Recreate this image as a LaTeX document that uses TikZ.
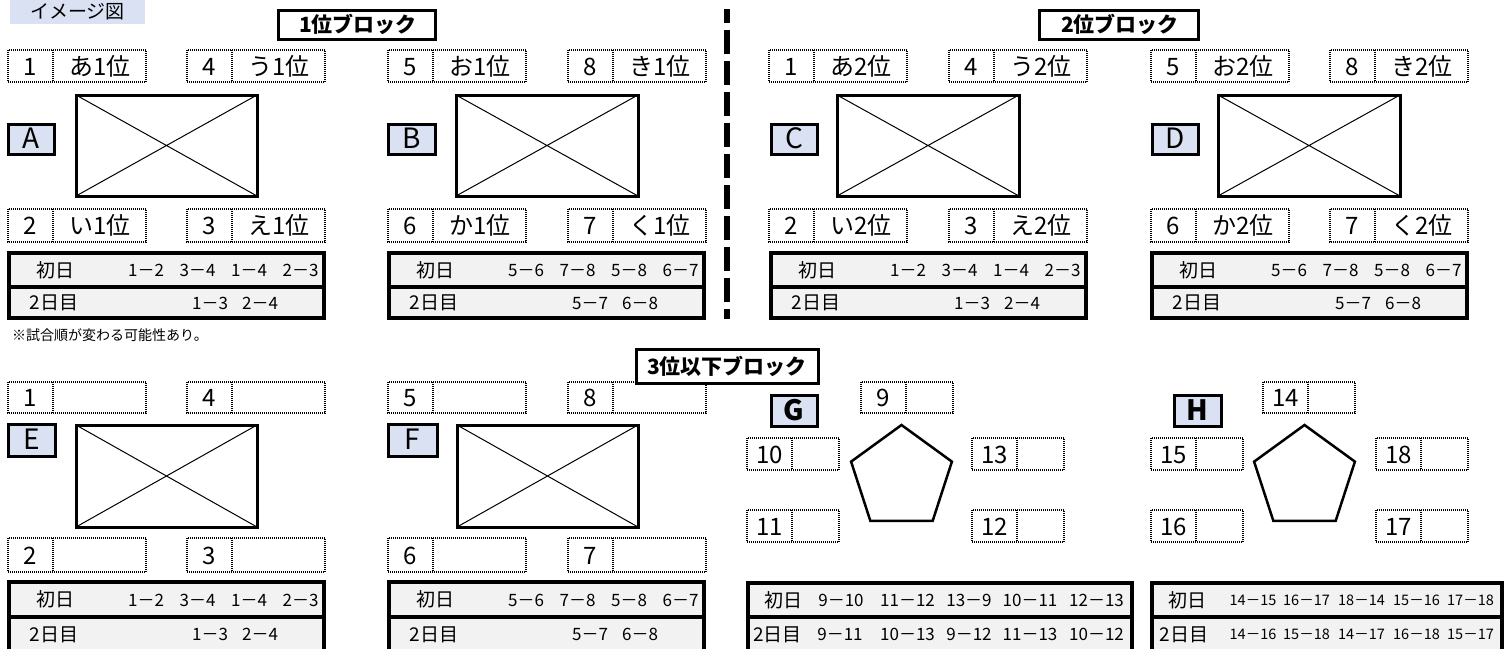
\documentclass[tikz,border=0pt]{standalone}
\usepackage{fontspec}
\usetikzlibrary{calc}
\setmainfont{Noto Sans CJK JP}
\definecolor{lblue}{HTML}{D9E1F2}
\definecolor{tgray}{HTML}{F2F2F2}
\tikzset{
  dotbox/.style={line width=2.5pt, dash pattern=on 1pt off 1pt},
  heavy/.style={line width=3pt},
  tblline/.style={line width=3.5pt},
  diag/.style={line width=1pt},
  penta/.style={line width=2.5pt, line join=miter},
  t24/.style={inner sep=0pt, font=\fontsize{24pt}{28pt}\selectfont, text height=21.1pt, text depth=2.9pt},
  t28/.style={inner sep=0pt, font=\fontsize{28pt}{32pt}\selectfont, text height=23.2pt, text depth=3.6pt},
  t21b/.style={inner sep=0pt, font=\fontsize{21pt}{25pt}\selectfont\bfseries, text height=18.5pt, text depth=2.5pt},
  t19/.style={inner sep=0pt, font=\fontsize{19pt}{23pt}\selectfont, text height=16.7pt, text depth=2.3pt},
  t17/.style={inner sep=0pt, font=\fontsize{17pt}{21pt}\selectfont, text height=15pt, text depth=2pt},
  t145/.style={inner sep=0pt, font=\fontsize{14.5pt}{18pt}\selectfont, text height=12.8pt, text depth=1.7pt},
  t14/.style={inner sep=0pt, font=\fontsize{14pt}{17pt}\selectfont, text height=12.3pt, text depth=1.7pt},
}
% dotted pair box with number and name
\newcommand\pairlbl[6]{%
  \draw[dotbox] (#2,#3) rectangle (#2+138,#4) (#2+45,#3) -- (#2+45,#4);
  \node[t24] (#1n) at (#2+22.5,{(#3+#4)/2}) {#5};
  \node[t24] (#1t) at (#2+92,{(#3+#4)/2}) {#6};
}
% dotted pair box with number only
\newcommand\pairnum[5]{%
  \draw[dotbox] (#2,#3) rectangle (#2+138,#4) (#2+45,#3) -- (#2+45,#4);
  \node[t24] (#1n) at (#2+22.5,{(#3+#4)/2}) {#5};
}
% short dotted pair box (pentagon groups)
\newcommand\pentpair[5]{%
  \draw[dotbox] (#2,#3) rectangle (#2+92,#4) (#2+45,#3) -- (#2+45,#4);
  \node[t24] (#1n) at (#2+22.5,{(#3+#4)/2}) {#5};
}
% crossed rectangle
\newcommand\xrect[4]{%
  \draw[heavy] (#1,#2) rectangle (#3,#4);
  \draw[diag] (#1,#2) -- (#3,#4) (#1,#4) -- (#3,#2);
}
% letter label box
\newcommand\letterbox[6]{%
  \draw[heavy, fill=lblue] (#2,#3) rectangle (#4,#5);
  \node[t28] (#1) at ({(#2+#4)/2},{(#3+#5)/2}) {#6};
}
% four-team schedule table
\newcommand\tblfour[7]{%
  \draw[tblline, fill=tgray] (#2,#3) rectangle (#2+315,#5) (#2,#4) -- (#2+315,#4);
  \node[t19] (#1ra) at (#2+46,{(#3+#4)/2}) {初日};
  \foreach \g [count=\i] in {#6} \node[t17] (#1a\i) at ({#2+137+(\i-1)*51.5},{(#3+#4)/2}) {\g};
  \node[t19] (#1rb) at (#2+45,{(#4+#5)/2}) {2日目};
  \foreach \g [count=\i] in {#7} \node[t17] (#1b\i) at ({#2+201+(\i-1)*50},{(#4+#5)/2}) {\g};
}
\begin{document}
\begin{tikzpicture}[x=1pt,y=-1pt]
\useasboundingbox (0,0) rectangle (1507,648);
\clip (0,0) rectangle (1507,648);

% header
\fill[lblue] (10,0) rectangle (145,24);
\node[t19] (hdr) at (77.5,11) {イメージ図};

% ---------- Block A ----------
\pairlbl{a1}{8}{50}{82}{1}{あ1位}
\pairlbl{a4}{187}{50}{82}{4}{う1位}
\letterbox{lA}{8}{124}{54}{154}{A}
\xrect{76}{95}{257}{196}
\pairlbl{a2}{8}{209}{242}{2}{い1位}
\pairlbl{a3}{187}{209}{242}{3}{え1位}
\tblfour{tA}{9}{253}{287}{318}{1－2,3－4,1－4,2－3}{1－3,2－4}

% ---------- Block B ----------
\pairlbl{b5}{388}{50}{82}{5}{お1位}
\pairlbl{b8}{568}{50}{82}{8}{き1位}
\letterbox{lB}{388}{124}{435}{154}{B}
\xrect{456}{95}{638}{196}
\pairlbl{b6}{388}{209}{242}{6}{か1位}
\pairlbl{b7}{568}{209}{242}{7}{く1位}
\tblfour{tB}{389}{253}{287}{318}{5－6,7－8,5－8,6－7}{5－7,6－8}

% ---------- Block C ----------
\pairlbl{c1}{769}{50}{82}{1}{あ2位}
\pairlbl{c4}{949}{50}{82}{4}{う2位}
\letterbox{lC}{771}{124}{817}{154}{C}
\xrect{837}{95}{1019}{196}
\pairlbl{c2}{769}{209}{242}{2}{い2位}
\pairlbl{c3}{949}{209}{242}{3}{え2位}
\tblfour{tC}{771}{253}{287}{318}{1－2,3－4,1－4,2－3}{1－3,2－4}

% ---------- Block D ----------
\pairlbl{d5}{1151}{50}{82}{5}{お2位}
\pairlbl{d8}{1330}{50}{82}{8}{き2位}
\letterbox{lD}{1152}{124}{1198}{154}{D}
\xrect{1218}{95}{1400}{196}
\pairlbl{d6}{1151}{209}{242}{6}{か2位}
\pairlbl{d7}{1330}{209}{242}{7}{く2位}
\tblfour{tD}{1152}{253}{287}{318}{5－6,7－8,5－8,6－7}{5－7,6－8}

% block titles and divider
\draw[heavy, fill=white] (278,10) rectangle (435,39);
\node[t21b] (ttl1) at (358,24.5) {1位ブロック};
\draw[heavy, fill=white] (1039,10) rectangle (1198,39);
\node[t21b] (ttl2) at (1120,24.5) {2位ブロック};
\draw[line width=6.5pt, dash pattern=on 24pt off 7pt, dash phase=10pt] (727,9) -- (727,319);

\node[t14, anchor=west] (note) at (12,335) {※試合順が変わる可能性あり。};

% ---------- Block E ----------
\pairnum{e1}{8}{382}{413}{1}
\pairnum{e4}{187}{382}{413}{4}
\letterbox{lE}{8}{424}{55}{456}{E}
\xrect{76}{425}{257}{527}
\pairnum{e2}{8}{538}{572}{2}
\pairnum{e3}{187}{538}{572}{3}
\tblfour{tE}{9}{582}{617}{651}{1－2,3－4,1－4,2－3}{1－3,2－4}

% ---------- Block F ----------
\pairnum{f5}{388}{382}{413}{5}
\pairnum{f8}{568}{382}{413}{8}
\letterbox{lF}{388}{424}{437}{456}{F}
\xrect{457}{425}{638}{527}
\pairnum{f6}{388}{538}{572}{6}
\pairnum{f7}{568}{538}{572}{7}
\tblfour{tF}{389}{582}{617}{651}{5－6,7－8,5－8,6－7}{5－7,6－8}

\draw[heavy, fill=white] (636,349) rectangle (818,383);
\node[t21b] (ttl3) at (727,366) {3位以下ブロック};

% ---------- Block G ----------
\letterbox{lG}{771}{395}{817}{426}{\bfseries G}
\pentpair{g9}{861}{382}{413}{9}
\pentpair{g10}{747}{438}{470}{10}
\pentpair{g13}{972}{438}{470}{13}
\pentpair{g11}{747}{510}{542}{11}
\pentpair{g12}{972}{510}{542}{12}
\coordinate (pG) at (901.5,478);
\draw[penta] ($(pG)+(-90:53)$) -- ($(pG)+(-162:53)$) -- ($(pG)+(-234:53)$) -- ($(pG)+(-306:53)$) -- ($(pG)+(-18:53)$) -- cycle;
\draw[tblline, fill=tgray] (748,583) rectangle (1132,651) (748,617) -- (1132,617);
\node[t19] (tGra) at (783,600) {初日};
\foreach \g/\x [count=\i] in {9－10/841, 11－12/907.5, 13－9/969, 10－11/1030, 12－13/1096.5}
  \node[t17] (tGa\i) at (\x,600) {\g};
\node[t19] (tGrb) at (777.5,634) {2日目};
\foreach \g/\x [count=\i] in {9－11/840, 10－13/907.5, 9－12/969, 11－13/1030, 10－12/1096.5}
  \node[t17] (tGb\i) at (\x,634) {\g};

% ---------- Block H ----------
\letterbox{lH}{1174}{395}{1221}{426}{\bfseries H}
\pentpair{h14}{1263}{382}{413}{14}
\pentpair{h15}{1151}{438}{470}{15}
\pentpair{h18}{1376}{438}{470}{18}
\pentpair{h16}{1151}{510}{542}{16}
\pentpair{h17}{1376}{510}{542}{17}
\coordinate (pH) at (1304.5,478);
\draw[penta] ($(pH)+(-90:53)$) -- ($(pH)+(-162:53)$) -- ($(pH)+(-234:53)$) -- ($(pH)+(-306:53)$) -- ($(pH)+(-18:53)$) -- cycle;
\draw[tblline, fill=tgray] (1152,583) rectangle (1502,651) (1152,617) -- (1502,617);
\node[t19] (tHra) at (1187.5,600) {初日};
\foreach \g/\x [count=\i] in {14－15/1253, 16－17/1306.5, 18－14/1361.5, 15－16/1416.5, 17－18/1470.5}
  \node[t145] (tHa\i) at (\x,600) {\g};
\node[t19] (tHrb) at (1184,634) {2日目};
\foreach \g/\x [count=\i] in {14－16/1253, 15－18/1306.5, 14－17/1361.5, 16－18/1416.5, 15－17/1470.5}
  \node[t145] (tHb\i) at (\x,634) {\g};
\end{tikzpicture}
\end{document}
